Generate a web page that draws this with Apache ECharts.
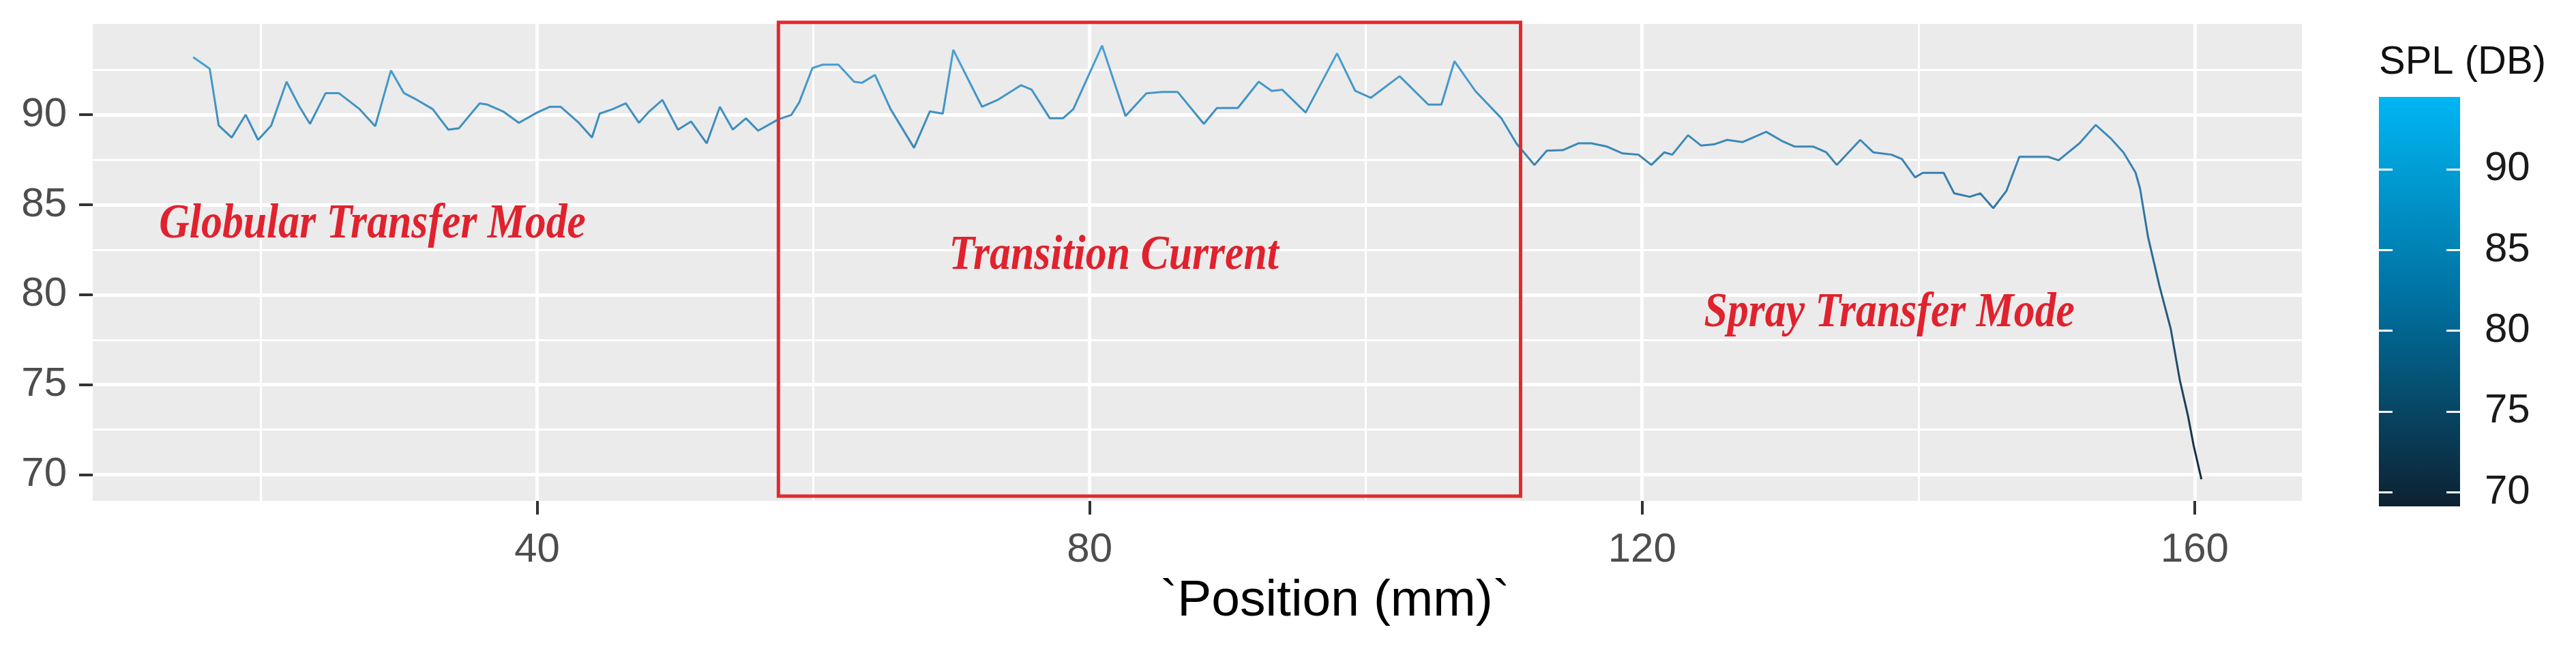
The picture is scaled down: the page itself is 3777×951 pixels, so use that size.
<!DOCTYPE html>
<html><head><meta charset="utf-8">
<script src="https://cdn.jsdelivr.net/npm/echarts@6/dist/echarts.min.js"></script>
<style>html,body{margin:0;padding:0;background:#fff}#c{width:3777px;height:951px}</style>
</head><body><div id="c"></div>
<script>
// ---- data ----
const positions = [15.1,16.3,16.95,17.89,18.9,19.8,20.75,21.86,22.8,23.56,24.69,25.64,27.15,28.28,29.42,30.36,31.31,32.44,33.57,34.33,35.84,36.41,37.54,38.68,40.0,40.94,41.7,43.02,43.97,44.53,45.48,46.42,47.37,48.12,49.07,50.2,51.15,52.28,53.23,54.17,55.12,56.0,57.47,58.41,58.98,59.93,60.68,61.81,62.95,63.52,64.46,65.59,67.29,68.43,69.37,70.13,72.21,73.34,75.04,75.8,77.12,78.07,78.82,80.9,82.6,84.11,85.25,86.38,88.27,89.22,90.73,92.24,93.18,93.94,95.64,97.91,99.23,100.36,102.44,104.52,105.47,106.41,107.92,109.81,110.9,112.2,113.1,114.25,115.38,116.32,117.46,118.59,119.73,120.67,121.61,122.18,123.32,124.26,125.2,126.15,127.28,128.98,130.12,131.06,132.39,133.33,134.09,135.79,136.73,138.05,138.81,139.76,140.32,141.83,142.59,143.72,144.48,145.42,146.37,147.31,149.39,150.15,151.66,152.84,153.9,154.85,155.72,156.05,156.63,157.45,158.27,158.93,159.51,159.92,160.49];
const spl = [93.2,92.55,89.4,88.73,90.0,88.6,89.4,91.83,90.44,89.49,91.2,91.2,90.31,89.36,92.46,91.2,90.82,90.31,89.17,89.24,90.63,90.56,90.18,89.55,90.12,90.44,90.44,89.55,88.73,90.06,90.31,90.63,89.55,90.18,90.82,89.17,89.62,88.41,90.44,89.17,89.8,89.11,89.74,89.99,90.69,92.59,92.78,92.78,91.83,91.77,92.21,90.31,88.16,90.18,90.06,93.6,90.44,90.82,91.64,91.39,89.8,89.8,90.31,93.84,89.93,91.19,91.26,91.26,89.49,90.37,90.37,91.83,91.32,91.39,90.12,93.41,91.32,90.94,92.14,90.56,90.56,92.97,91.32,89.8,88.4,87.21,88.0,88.03,88.41,88.41,88.23,87.85,87.78,87.21,87.91,87.78,88.86,88.29,88.35,88.6,88.48,89.05,88.54,88.23,88.23,87.91,87.21,88.6,87.91,87.78,87.53,86.52,86.77,86.77,85.63,85.44,85.63,84.81,85.76,87.66,87.66,87.47,88.41,89.43,88.7,87.9,86.79,85.89,83.19,80.49,78.1,75.24,73.3,71.65,69.75];
const xTicks = [40, 80, 120, 160];
const xMinor = [20, 60, 100, 140];
const yTicks = [70, 75, 80, 85, 90];
const yMinor = [72.5, 77.5, 82.5, 87.5, 92.5];
const legendTicks = [70, 75, 80, 85, 90];
const annText = ['Globular Transfer Mode', 'Transition Current', 'Spray Transfer Mode'];
const annX = [28.08, 81.76, 137.9];
const annY = [83.86, 82.12, 78.93];
const boxX = [57.47, 111.2];
const boxY = [68.81, 95.13];

// ---- scales (ggplot-style 5% expansion) ----
const xMinD = Math.min(...positions), xMaxD = Math.max(...positions);
const yMinD = Math.min(...spl), yMaxD = Math.max(...spl);
const xPad = (xMaxD - xMinD) * 0.05, yPad = (yMaxD - yMinD) * 0.05;
const cbPad = (yMaxD - yMinD) / 38;
const cbMin = yMinD - cbPad, cbMax = yMaxD + cbPad;

const lineData = positions.map((x, i) => [x, spl[i]]);
const FONT = '"Liberation Sans", Arial, sans-serif';

const chart = echarts.init(document.getElementById('c'), null, {renderer: 'canvas'});
const gridLines = [].concat(
  yMinor.map(v => ({yAxis: v, lineStyle: {width: 3}})),
  xMinor.map(v => ({xAxis: v, lineStyle: {width: 3}})),
  yTicks.map(v => ({yAxis: v, lineStyle: {width: 5}})),
  xTicks.map(v => ({xAxis: v, lineStyle: {width: 5}}))
);

chart.setOption({
  animation: false,
  backgroundColor: '#ffffff',
  grid: [
    {left: 136, top: 35, width: 3239, height: 699, show: true, backgroundColor: '#EBEBEB', borderWidth: 0},
    {left: 3488, top: 142, width: 119, height: 600, show: false}
  ],
  xAxis: [
    {type: 'value', gridIndex: 0, min: xMinD - xPad, max: xMaxD + xPad,
     axisLine: {show: false}, splitLine: {show: false},
     axisTick: {show: true, length: 20, customValues: xTicks, lineStyle: {color: '#333333', width: 4}},
     axisLabel: {show: true, customValues: xTicks, margin: 42, fontSize: 60, color: '#4D4D4D', fontFamily: FONT},
     name: '`Position (mm)`', nameLocation: 'middle', nameGap: 110,
     nameTextStyle: {fontSize: 75, color: '#000000', fontFamily: FONT, padding: [0, 0, 0, 404]}},
    {type: 'category', gridIndex: 1, data: ['SPL'], show: false}
  ],
  yAxis: [
    {type: 'value', gridIndex: 0, min: yMinD - yPad, max: yMaxD + yPad,
     axisLine: {show: false}, splitLine: {show: false},
     axisTick: {show: true, length: 20, customValues: yTicks, lineStyle: {color: '#333333', width: 4}},
     axisLabel: {show: true, customValues: yTicks, margin: 38, fontSize: 60, color: '#4D4D4D', fontFamily: FONT}},
    {type: 'value', gridIndex: 1, position: 'right', min: cbMin, max: cbMax, z: 10,
     axisLine: {show: false}, splitLine: {show: false},
     axisTick: {show: true, inside: true, length: 20, customValues: legendTicks, lineStyle: {color: '#ffffff', width: 3}},
     axisLabel: {show: true, customValues: legendTicks, margin: 36, fontSize: 60, color: '#1A1A1A', fontFamily: FONT}},
    {type: 'value', gridIndex: 1, position: 'left', min: cbMin, max: cbMax, z: 10,
     axisLine: {show: false}, splitLine: {show: false},
     axisTick: {show: true, inside: true, length: 20, customValues: legendTicks, lineStyle: {color: '#ffffff', width: 3}},
     axisLabel: {show: false}}
  ],
  visualMap: [{
    type: 'continuous', show: false, seriesIndex: 1, dimension: 1,
    min: yMinD, max: yMaxD,
    inRange: {color: ['#15293A', '#2A6A92', '#4AA2D6']}
  }],
  series: [
    {type: 'line', xAxisIndex: 0, yAxisIndex: 0, data: lineData, symbol: 'none', silent: true, z: 1,
     lineStyle: {opacity: 0},
     markLine: {silent: true, symbol: ['none', 'none'], label: {show: false},
       lineStyle: {color: '#ffffff', type: 'solid'}, data: gridLines, animation: false}},
    {type: 'line', name: 'SPL (DB)', xAxisIndex: 0, yAxisIndex: 0, data: lineData, symbol: 'none',
     z: 5, lineStyle: {width: 3}},
    {type: 'bar', xAxisIndex: 1, yAxisIndex: 1, stack: 'cb', data: [cbMin], barCategoryGap: '0%',
     itemStyle: {color: 'rgba(0,0,0,0)'}, silent: true, z: 2},
    {type: 'bar', xAxisIndex: 1, yAxisIndex: 1, stack: 'cb', data: [cbMax - cbMin], barCategoryGap: '0%',
     silent: true, z: 2,
     itemStyle: {color: new echarts.graphic.LinearGradient(0, 0, 0, 1, [
       {offset: 0, color: '#00B6F3'}, {offset: 0.5, color: '#00709F'}, {offset: 1, color: '#0D2131'}])}}
  ]
});

// ---- annotations placed through the chart's own scales ----
const g = [];
const p1 = chart.convertToPixel({gridIndex: 0}, [boxX[0], boxY[1]]);
const p2 = chart.convertToPixel({gridIndex: 0}, [boxX[1], boxY[0]]);
g.push({type: 'rect', silent: true, z: 100,
  shape: {x: p1[0], y: p1[1], width: p2[0] - p1[0], height: p2[1] - p1[1]},
  style: {fill: 'none', stroke: '#E02A30', lineWidth: 5}});
annText.forEach((t, i) => {
  const p = chart.convertToPixel({gridIndex: 0}, [annX[i], annY[i]]);
  g.push({type: 'text', x: p[0], y: p[1], scaleX: 0.87, z: 100, silent: true,
    style: {text: t, fill: '#E0222E', font: 'italic bold 71px "Liberation Serif", "Times New Roman", serif',
      textAlign: 'center', textVerticalAlign: 'middle', align: 'center', verticalAlign: 'middle'}});
});
g.push({type: 'text', x: 3488, y: 92, z: 100, silent: true,
  style: {text: 'SPL (DB)', fill: '#111111', font: '58px "Liberation Sans", Arial, sans-serif',
    textAlign: 'left', textVerticalAlign: 'middle', align: 'left', verticalAlign: 'middle'}});
chart.setOption({graphic: g});
</script>
</body></html>
